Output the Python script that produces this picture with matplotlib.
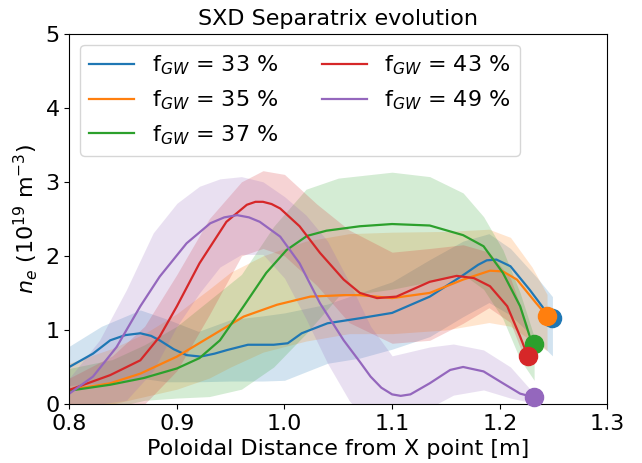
import numpy as np
import matplotlib
matplotlib.use("Agg")
import matplotlib.pyplot as plt

# f_GW values of the five discharges
labels = [r"f$_{GW}$ = 33 %", r"f$_{GW}$ = 35 %", r"f$_{GW}$ = 37 %",
          r"f$_{GW}$ = 43 %", r"f$_{GW}$ = 49 %"]

# mean separatrix density
x_33 = [0.800, 0.822, 0.838, 0.852, 0.866, 0.876, 0.884, 0.897, 0.909, 0.922, 0.935, 0.947, 0.966,
        0.990, 1.003, 1.016, 1.040, 1.071, 1.100, 1.135, 1.166, 1.180, 1.188, 1.197, 1.210,
        1.228, 1.244, 1.249]
n_33 = [0.50, 0.68, 0.86, 0.93, 0.955, 0.92, 0.86, 0.74, 0.66, 0.64, 0.68, 0.73, 0.80,
        0.80, 0.82, 0.955, 1.09, 1.16, 1.23, 1.45, 1.74, 1.88, 1.94, 1.95, 1.86,
        1.54, 1.23, 1.16]

x_35 = [0.800, 0.838, 0.866, 0.900, 0.931, 0.962, 0.993, 1.024, 1.055, 1.070, 1.100,
        1.135, 1.166, 1.191, 1.203, 1.216, 1.234, 1.244]
n_35 = [0.19, 0.28, 0.41, 0.64, 0.91, 1.18, 1.34, 1.45, 1.47, 1.47, 1.43,
        1.50, 1.68, 1.80, 1.79, 1.68, 1.36, 1.19]

x_37 = [0.800, 0.838, 0.869, 0.900, 0.921, 0.940, 0.962, 0.983, 1.002, 1.021, 1.039,
        1.070, 1.100, 1.135, 1.166, 1.185, 1.203, 1.219, 1.228, 1.232]
n_37 = [0.18, 0.26, 0.35, 0.48, 0.62, 0.86, 1.32, 1.77, 2.08, 2.27, 2.34,
        2.40, 2.43, 2.41, 2.28, 2.13, 1.77, 1.32, 0.91, 0.81]

x_43 = [0.800, 0.838, 0.866, 0.884, 0.900, 0.921, 0.946, 0.965, 0.973, 0.980, 0.988, 0.996, 1.014,
        1.033, 1.055, 1.070, 1.086, 1.104, 1.135, 1.160, 1.176, 1.191, 1.207, 1.219, 1.226]
n_43 = [0.19, 0.39, 0.59, 0.91, 1.32, 1.90, 2.46, 2.69, 2.73, 2.73, 2.70, 2.64, 2.40,
        2.04, 1.68, 1.50, 1.43, 1.45, 1.65, 1.73, 1.70, 1.59, 1.32, 0.91, 0.65]

x_49 = [0.800, 0.822, 0.844, 0.866, 0.884, 0.909, 0.931, 0.944, 0.956, 0.967, 0.977, 0.996, 1.014,
        1.033, 1.055, 1.070, 1.080, 1.090, 1.100, 1.108, 1.117, 1.135, 1.154, 1.166, 1.185,
        1.203, 1.219, 1.232]
n_49 = [0.14, 0.37, 0.77, 1.32, 1.72, 2.17, 2.44, 2.52, 2.55, 2.52, 2.46, 2.26, 1.90,
        1.36, 0.86, 0.57, 0.37, 0.22, 0.13, 0.11, 0.13, 0.28, 0.46, 0.50, 0.44,
        0.28, 0.14, 0.09]

# uncertainty bands (x, lower, upper)
bx_33 = [0.80, 0.83, 0.866, 0.89, 0.92, 0.95, 0.98, 1.00, 1.04, 1.07, 1.10, 1.135, 1.166, 1.19, 1.21, 1.235, 1.249]
lo_33 = [0.25, 0.28, 0.35, 0.30, 0.30, 0.31, 0.31, 0.32, 0.55, 0.62, 0.74, 0.91, 1.18, 1.37, 1.20, 0.85, 0.65]
hi_33 = [0.78, 1.05, 1.27, 1.15, 0.98, 1.14, 1.19, 1.23, 1.35, 1.50, 1.65, 1.95, 2.20, 2.30, 2.10, 1.70, 1.45]

bx_35 = [0.80, 0.84, 0.87, 0.90, 0.93, 0.95, 0.98, 1.02, 1.06, 1.10, 1.15, 1.19, 1.21, 1.23, 1.244]
lo_35 = [-0.10, 0.00, 0.10, 0.20, 0.35, 0.50, 0.70, 0.85, 0.95, 0.95, 1.00, 1.10, 1.05, 0.85, 0.72]
hi_35 = [0.55, 0.75, 0.95, 1.22, 1.55, 1.78, 2.00, 2.20, 2.30, 2.32, 2.33, 2.36, 2.25, 1.85, 1.48]

bx_37 = [0.80, 0.84, 0.87, 0.90, 0.93, 0.96, 0.99, 1.02, 1.05, 1.10, 1.135, 1.166, 1.185, 1.203, 1.219, 1.232]
lo_37 = [-0.10, -0.05, 0.05, 0.08, 0.10, 0.20, 0.50, 0.95, 1.45, 1.55, 1.65, 1.75, 1.55, 1.15, 0.60, 0.32]
hi_37 = [0.48, 0.60, 0.80, 1.05, 1.40, 1.75, 2.40, 2.90, 3.05, 3.13, 3.07, 2.85, 2.53, 2.08, 1.50, 0.91]

bx_43 = [0.80, 0.84, 0.87, 0.90, 0.93, 0.96, 0.98, 1.00, 1.03, 1.06, 1.10, 1.135, 1.166, 1.19, 1.21, 1.226]
lo_43 = [-0.10, -0.05, 0.00, 0.45, 1.20, 2.00, 2.10, 2.00, 1.60, 1.10, 0.82, 0.86, 1.09, 1.30, 1.10, 0.50]
hi_43 = [0.35, 0.65, 1.05, 1.75, 2.50, 3.00, 3.15, 3.10, 2.70, 2.35, 2.05, 2.10, 2.15, 2.05, 1.70, 1.05]

bx_49 = [0.80, 0.828, 0.853, 0.878, 0.90, 0.921, 0.94, 0.96, 0.98, 1.00, 1.02, 1.04, 1.06, 1.08,
         1.10, 1.135, 1.157, 1.185, 1.21, 1.232]
lo_49 = [-0.10, 0.00, 0.05, 0.45, 1.05, 1.50, 1.85, 2.02, 2.02, 1.70, 1.15, 0.55, 0.05, -0.30,
         -0.40, -0.05, 0.12, 0.19, 0.08, 0.01]
hi_49 = [0.35, 0.86, 1.54, 2.31, 2.71, 2.94, 3.04, 3.07, 3.00, 2.80, 2.55, 2.20, 1.65, 1.05,
         0.65, 0.77, 0.81, 0.73, 0.50, 0.14]

xs = [x_33, x_35, x_37, x_43, x_49]
ns = [n_33, n_35, n_37, n_43, n_49]
bxs = [bx_33, bx_35, bx_37, bx_43, bx_49]
los = [lo_33, lo_35, lo_37, lo_43, lo_49]
his = [hi_33, hi_35, hi_37, hi_43, hi_49]
colors = ["tab:blue", "tab:orange", "tab:green", "tab:red", "tab:purple"]

fig = plt.figure(figsize=(6.42, 4.63), dpi=100)
ax = fig.add_axes([69.3 / 642, 1 - 404 / 463, (607.3 - 69.3) / 642, (404 - 33.7) / 463])

for i in range(5):
    ax.fill_between(bxs[i], los[i], his[i], color=colors[i], alpha=0.2, linewidth=0)
    ax.plot(xs[i], ns[i], color=colors[i], lw=1.6, label=labels[i])

# end points
for i in range(5):
    ax.scatter(xs[i][-1], ns[i][-1], s=170, color=colors[i], zorder=5, clip_on=False)

ax.set_xlim(0.8, 1.3)
ax.set_ylim(0, 5)
ax.set_xticks([0.8, 0.9, 1.0, 1.1, 1.2, 1.3])
ax.set_yticks([0, 1, 2, 3, 4, 5])
ax.tick_params(labelsize=16)
ax.set_xlabel("Poloidal Distance from X point [m]", fontsize=16)
ax.set_ylabel(r"$n_e$ (10$^{19}$ m$^{-3}$)", fontsize=16)
ax.set_title("SXD Separatrix evolution", fontsize=16)
ax.legend(loc="upper left", ncol=2, fontsize=16)

fig.savefig("out.png", dpi=100)
